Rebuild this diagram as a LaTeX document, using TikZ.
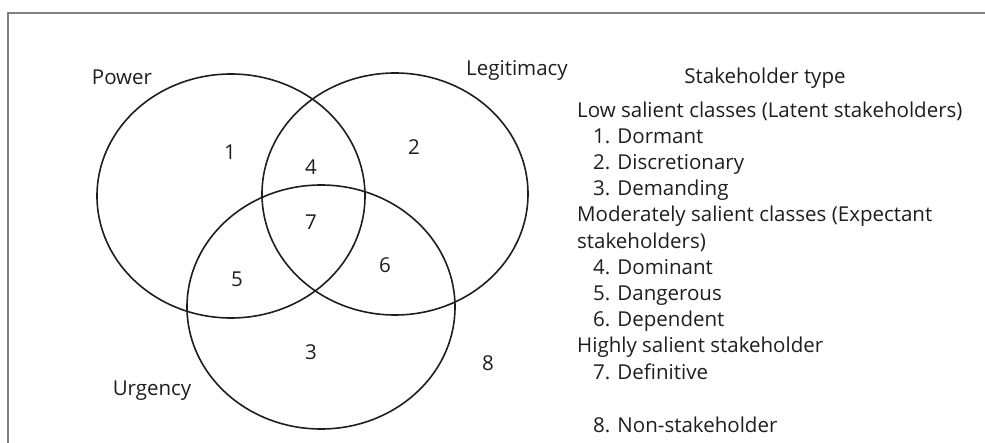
\documentclass[tikz,border=0pt]{standalone}
\usepackage{fontspec}
\setmainfont{Open Sans}
\definecolor{tinte}{HTML}{1E1E1E}
\definecolor{rahmen}{HTML}{808080}
\tikzset{
  menge/.style={draw=tinte,line width=1.6pt},
  rand/.style={rahmen,line width=1.2pt},
  zahl/.style={text=tinte,inner sep=0pt,font=\fontsize{20.5}{24}\selectfont},
  attribut/.style={text=tinte,inner sep=0pt,font=\fontsize{20.5}{24}\selectfont},
  zeile/.style={text=tinte,inner sep=0pt,anchor=base west,font=\fontsize{20.5}{24}\selectfont},
}
\begin{document}
\begin{tikzpicture}[x=1pt,y=-1pt]
  \useasboundingbox (0,0) rectangle (985,443);
  % Rahmen: nur oben und links sichtbar
  \draw[rand] (985,13) -- (8,13) -- (8,443);
  % drei Attribute
  \draw[menge] (231,196) ellipse [x radius=134pt,y radius=122pt];
  \draw[menge] (395,194) ellipse [x radius=133pt,y radius=121pt];
  \draw[menge] (321,307) ellipse [x radius=134pt,y radius=122pt];
  \node[attribut] (power) at (122,77) {Power};
  \node[attribut] (legit) at (517,70) {Legitimacy};
  \node[attribut] (urgency) at (152,391) {Urgency};
  % Klassen in den Teilflaechen
  \node[zahl] (k1) at (230,152) {1};
  \node[zahl] (k2) at (414,147) {2};
  \node[zahl] (k3) at (311,352) {3};
  \node[zahl] (k4) at (311,167) {4};
  \node[zahl] (k5) at (237,279) {5};
  \node[zahl] (k6) at (385,265) {6};
  \node[zahl] (k7) at (311,222) {7};
  \node[zahl] (k8) at (488,363) {8};
  % Legende
  \node[zeile,anchor=base] (typ) at (765,84) {Stakeholder type};
  \node[zeile] (low) at (577,118) {Low salient classes (Latent stakeholders)};
  \node[zeile] (t1) at (593,144) {1. Dormant};
  \node[zeile] (t2) at (593,170) {2. Discretionary};
  \node[zeile] (t3) at (593,196) {3. Demanding};
  \node[zeile] (mod) at (577,222) {Moderately salient classes (Expectant};
  \node[zeile] (mod2) at (577,249) {stakeholders)};
  \node[zeile] (t4) at (593,275) {4. Dominant};
  \node[zeile] (t5) at (593,301) {5. Dangerous};
  \node[zeile] (t6) at (593,327) {6. Dependent};
  \node[zeile] (high) at (577,353) {Highly salient stakeholder};
  \node[zeile] (t7) at (593,380) {7. Definitive};
  \node[zeile] (t8) at (593,432) {8. Non-stakeholder};
\end{tikzpicture}
\end{document}
